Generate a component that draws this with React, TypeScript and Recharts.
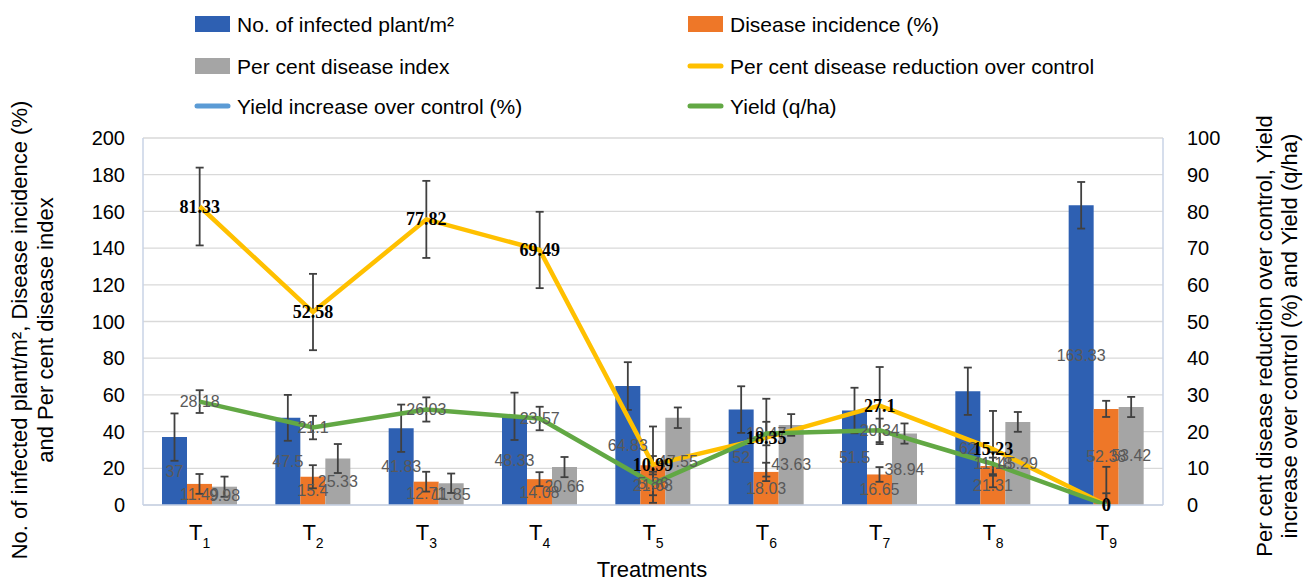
import React from 'react';
import { ComposedChart, Bar, Line, XAxis, YAxis, CartesianGrid, ErrorBar, LabelList } from 'recharts';

const categories = ['T1', 'T2', 'T3', 'T4', 'T5', 'T6', 'T7', 'T8', 'T9'];
const infected = [37, 47.5, 41.83, 48.33, 64.83, 52, 51.5, 62, 163.33];
const infectedErr = [12.9, 12.5, 12.9, 12.9, 13, 12.7, 12.4, 12.9, 12.7];
const incidence = [11.49, 15.4, 12.71, 14.08, 21.68, 18.03, 16.65, 21.31, 52.38];
const incidenceErr = [5.4, 6.3, 5.4, 3.8, 5, 5, 4, 4.5, 4.4];
const pdi = [9.98, 25.33, 11.85, 20.66, 47.55, 43.63, 38.94, 45.29, 53.42];
const pdiErr = [5.5, 7.9, 5.3, 5.5, 5.6, 5.9, 5.5, 5.4, 5.5];
const reduction = [81.33, 52.58, 77.82, 69.49, 10.99, 18.35, 27.1, 15.23, 0];
// [below, above]; the part below the axis is cut off in the reference
const reductionErr = [[10.6, 10.6], [10.4, 10.4], [10.5, 10.5], [10.4, 10.4], [10.4, 10.4], [10.6, 10.6], [10.5, 10.5], [10.4, 10.4], [0, 10.4]];
const yieldQ = [28.18, 21.1, 26.03, 23.57, 5.86, 19.47, 20.34, 11.18, 0];
const yieldErr = [[3.1, 3.1], [3.2, 3.2], [3.3, 3.3], [3.2, 3.2], [3.2, 3.2], [3.2, 3.2], [3.2, 3.2], [3.2, 3.2], [0, 3.2]];

const leftTicks = [0, 20, 40, 60, 80, 100, 120, 140, 160, 180, 200];
const rightTicks = [0, 10, 20, 30, 40, 50, 60, 70, 80, 90, 100];

const data = categories.map((c, i) => ({
  name: c,
  infected: infected[i],
  infectedErr: infectedErr[i],
  incidence: incidence[i],
  incidenceErr: incidenceErr[i],
  pdi: pdi[i],
  pdiErr: pdiErr[i],
  reduction: reduction[i],
  reductionErr: reductionErr[i],
  yieldQ: yieldQ[i],
  yieldErr: yieldErr[i],
}));

const FONT = '"Liberation Sans", Arial, sans-serif';
const C_BLUE = '#2E60B2';
const C_ORANGE = '#EE7728';
const C_GRAY = '#A5A5A5';
const C_YELLOW = '#FFC000';
const C_LIGHTBLUE = '#5B9BD5';
const C_GREEN = '#62A844';
const AXIS = '#C9D3E6';

const BarLabel = (props: any) => {
  const { x, y, width, height, value } = props;
  return (
    <text x={Number(x) + Number(width) / 2} y={Number(y) + Number(height) / 2} textAnchor="middle"
      dominantBaseline="central" fill="#595959" fontSize={16} fontFamily={FONT}>{value}</text>
  );
};

const GreenLabel = (props: any) => {
  const { x, y, value } = props;
  return (
    <text x={x} y={y} textAnchor="middle" dominantBaseline="central" fill="#595959" fontSize={16}
      fontFamily={FONT}>{value}</text>
  );
};

const YellowLabel = (props: any) => {
  const { x, y, value } = props;
  return (
    <text x={x} y={y} textAnchor="middle" dominantBaseline="central" fill="#000" fontSize={18}
      fontWeight="bold" fontFamily='"Liberation Serif", "Times New Roman", serif'>{value}</text>
  );
};

const XTick = (props: any) => {
  const { x, y, payload } = props;
  const v = String(payload.value);
  return (
    <text x={x} y={Number(y) + 35} textAnchor="middle" fill="#000" fontFamily={FONT} fontSize={22}>
      {v.charAt(0)}
      <tspan fontSize={14} dy={8}>{v.slice(1)}</tspan>
    </text>
  );
};

const legendItems = [
  { label: 'No. of infected plant/m²', color: C_BLUE, kind: 'rect', col: 0, row: 0 },
  { label: 'Disease incidence (%)', color: C_ORANGE, kind: 'rect', col: 1, row: 0 },
  { label: 'Per cent disease index', color: C_GRAY, kind: 'rect', col: 0, row: 1 },
  { label: 'Per cent disease reduction over control', color: C_YELLOW, kind: 'line', col: 1, row: 1 },
  { label: 'Yield increase over control (%)', color: C_LIGHTBLUE, kind: 'line', col: 0, row: 2 },
  { label: 'Yield (q/ha)', color: C_GREEN, kind: 'line', col: 1, row: 2 },
];
const rowY = [24, 66, 106];
const colX = [195, 688];

export default function App() {
  return (
    <div style={{ position: 'absolute', left: 0, top: 0, width: 1304, height: 581, background: '#fff', fontFamily: FONT }}>
      <ComposedChart width={1304} height={581} data={data}
        margin={{ top: 138, right: 0, bottom: 36, left: 0 }} barCategoryGap={19} barGap={0}>
        <CartesianGrid yAxisId="left" vertical={false} stroke="#D9D9D9" strokeWidth={1.3} />
        <XAxis dataKey="name" height={40} tickLine={false} tickSize={0} tickMargin={0}
          axisLine={{ stroke: AXIS, strokeWidth: 1.5 }} tick={<XTick />} interval={0} />
        <YAxis yAxisId="left" width={143} domain={[0, 200]} allowDataOverflow ticks={leftTicks} tickLine={false}
          tickSize={0} tickMargin={18} axisLine={{ stroke: AXIS, strokeWidth: 1.5 }}
          tick={{ fill: '#000', fontSize: 20, fontFamily: FONT }} interval={0} />
        <YAxis yAxisId="right" orientation="right" width={141} domain={[0, 100]} allowDataOverflow
          ticks={rightTicks} tickLine={false} tickSize={0} tickMargin={24}
          axisLine={{ stroke: AXIS, strokeWidth: 1.5 }}
          tick={{ fill: '#000', fontSize: 20, fontFamily: FONT, textAnchor: 'start' }} interval={0} />
        <Bar yAxisId="left" dataKey="infected" fill={C_BLUE} isAnimationActive={false}>
          <ErrorBar dataKey="infectedErr" width={4} stroke="#404040" strokeWidth={1.8} />
          <LabelList dataKey="infected" content={BarLabel} />
        </Bar>
        <Bar yAxisId="left" dataKey="incidence" fill={C_ORANGE} isAnimationActive={false}>
          <ErrorBar dataKey="incidenceErr" width={4} stroke="#404040" strokeWidth={1.8} />
          <LabelList dataKey="incidence" content={BarLabel} />
        </Bar>
        <Bar yAxisId="left" dataKey="pdi" fill={C_GRAY} isAnimationActive={false}>
          <ErrorBar dataKey="pdiErr" width={4} stroke="#404040" strokeWidth={1.8} />
          <LabelList dataKey="pdi" content={BarLabel} />
        </Bar>
        <Line yAxisId="right" dataKey="reduction" stroke={C_YELLOW} strokeWidth={4.5} dot={false}
          activeDot={false} isAnimationActive={false}>
          <ErrorBar dataKey="reductionErr" width={4} stroke="#404040" strokeWidth={1.8} />
        </Line>
        <Line yAxisId="right" dataKey="yieldQ" stroke={C_GREEN} strokeWidth={4.5} dot={false}
          activeDot={false} isAnimationActive={false}>
          <ErrorBar dataKey="yieldErr" width={4} stroke="#404040" strokeWidth={1.8} />
        </Line>
        <Line yAxisId="right" dataKey="yieldQ" stroke="none" strokeWidth={0} dot={false}
          activeDot={false} isAnimationActive={false} legendType="none">
          <LabelList dataKey="yieldQ" content={GreenLabel} />
        </Line>
        <Line yAxisId="right" dataKey="reduction" stroke="none" strokeWidth={0} dot={false}
          activeDot={false} isAnimationActive={false} legendType="none">
          <LabelList dataKey="reduction" content={YellowLabel} />
        </Line>
      </ComposedChart>

      <svg width={1304} height={581} style={{ position: 'absolute', left: 0, top: 0, pointerEvents: 'none' }}>
        <g fontFamily={FONT} fontSize={22} fill="#000">
          <text transform="translate(19,330) rotate(-90)" textAnchor="middle" dominantBaseline="central">
            No. of infected plant/m², Disease incidence (%)
          </text>
          <text transform="translate(45,330) rotate(-90)" textAnchor="middle" dominantBaseline="central">
            and Per cent disease index
          </text>
          <text transform="translate(1264,336) rotate(-90)" textAnchor="middle" dominantBaseline="central">
            Per cent disease reduction over control, Yield
          </text>
          <text transform="translate(1289,336) rotate(-90)" textAnchor="middle" dominantBaseline="central">
            increase over control (%) and Yield (q/ha)
          </text>
          <text x={652} y={569} textAnchor="middle" dominantBaseline="central">Treatments</text>
        </g>
        <g fontFamily={FONT} fontSize={21} fill="#000">
          {legendItems.map((it) => {
            const x = colX[it.col];
            const y = rowY[it.row];
            return (
              <g key={it.label}>
                {it.kind === 'rect' ? (
                  <rect x={x} y={y - 8} width={35} height={16} fill={it.color} />
                ) : (
                  <line x1={x + 2} y1={y} x2={x + 33} y2={y} stroke={it.color} strokeWidth={5} strokeLinecap="round" />
                )}
                <text x={x + 42} y={y} dominantBaseline="central">{it.label}</text>
              </g>
            );
          })}
        </g>
      </svg>
    </div>
  );
}
